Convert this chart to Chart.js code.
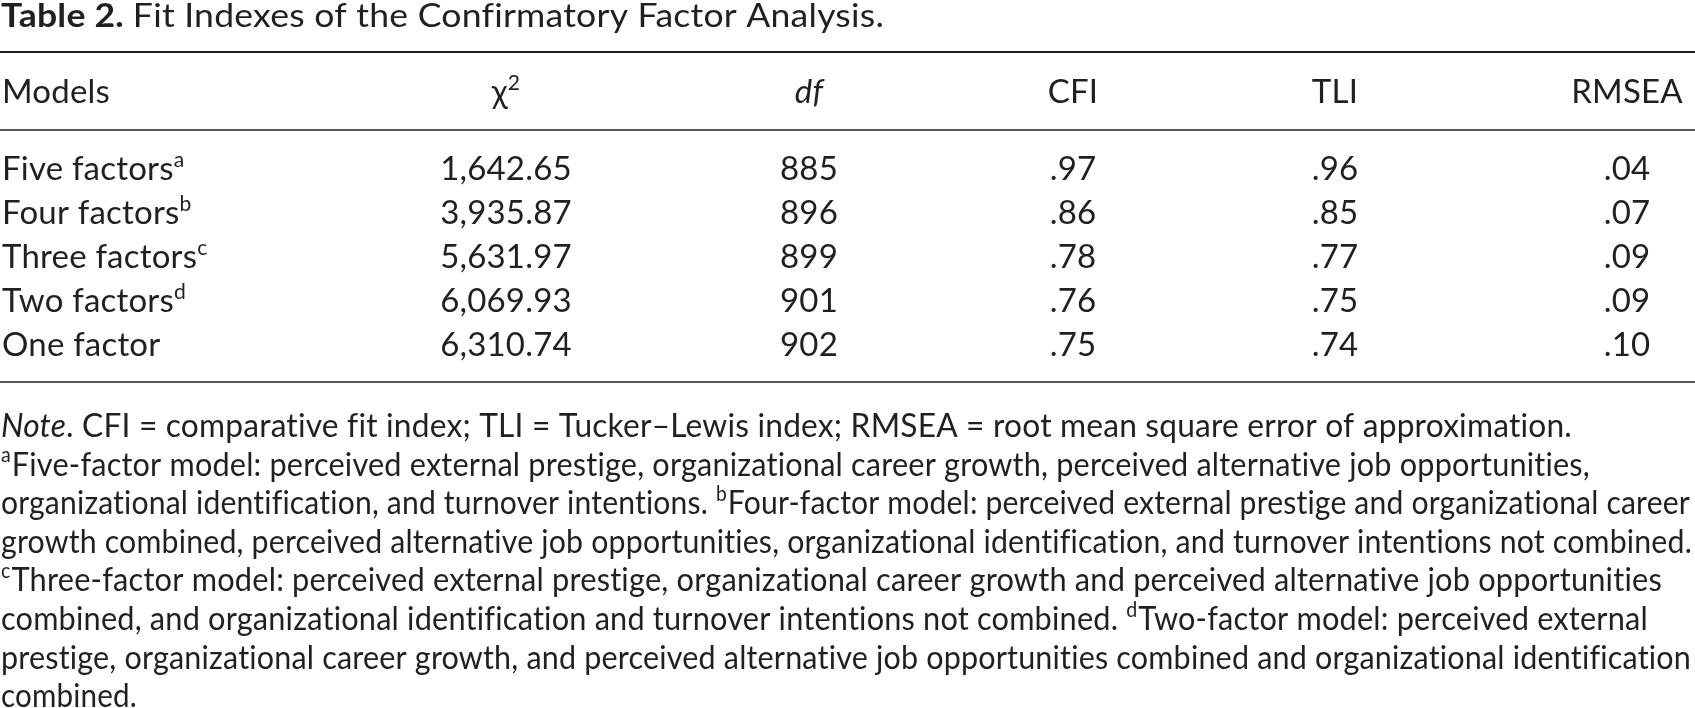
<!DOCTYPE html>
<html>
<head>
<meta charset="utf-8">
<title>Table 2. Fit Indexes of the Confirmatory Factor Analysis</title>
<script src="https://cdn.jsdelivr.net/npm/chart.js@4.4.0/dist/chart.umd.min.js"></script>
<style>
  html, body { margin: 0; padding: 0; background: #fff; }
  #wrap { width: 1695px; height: 708px; position: relative; }
</style>
</head>
<body>
<div id="wrap"><canvas id="fitTable"></canvas></div>
<script>
// table data
const title = ['Table 2.', 'Fit Indexes of the Confirmatory Factor Analysis.'];
const headers = ['Models', 'χ', 'df', 'CFI', 'TLI', 'RMSEA'];
const models = ['Five factors', 'Four factors', 'Three factors', 'Two factors', 'One factor'];
const modelMarks = ['a', 'b', 'c', 'd', ''];
const chiSquare = [1642.65, 3935.87, 5631.97, 6069.93, 6310.74];
const degrees = [885, 896, 899, 901, 902];
const cfi = [0.97, 0.86, 0.78, 0.76, 0.75];
const tli = [0.96, 0.85, 0.77, 0.75, 0.74];
const rmsea = [0.04, 0.07, 0.09, 0.09, 0.10];

// note lines, each a list of [text, style]; style: i = italic, s = superscript
const noteLines = [
  [['Note', 'i'], ['. CFI = comparative fit index; TLI = Tucker–Lewis index; RMSEA = root mean square error of approximation.', '']],
  [['a', 's'], ['Five-factor model: perceived external prestige, organizational career growth, perceived alternative job opportunities,', '']],
  [['organizational identification, and turnover intentions. ', ''], ['b', 's'], ['Four-factor model: perceived external prestige and organizational career', '']],
  [['growth combined, perceived alternative job opportunities, organizational identification, and turnover intentions not combined.', '']],
  [['c', 's'], ['Three-factor model: perceived external prestige, organizational career growth and perceived alternative job opportunities', '']],
  [['combined, and organizational identification and turnover intentions not combined. ', ''], ['d', 's'], ['Two-factor model: perceived external', '']],
  [['prestige, organizational career growth, and perceived alternative job opportunities combined and organizational identification', '']],
  [['combined.', '']]
];

// layout (pixels)
const W = 1695, H = 708;
const FONT = 'Lato, "Noto Sans", sans-serif';
const SIZE = 33;
const INK = '#231f20';
const colX = [2, 506, 809, 1073, 1335, 1627];
const titleY = 27;
const headerY = 103;
const rowY0 = 180, rowStep = 44;
const noteY0 = 437, noteStep = 38.6;
const noteWidths = [1571, 1588, 1688, 1691, 1660, 1646, 1690, 136];
const titleWidth = 883;
const rules = [[52, 2], [130, 1.6], [382, 1.6]];

const fmtChi = v => v.toLocaleString('en-US', { minimumFractionDigits: 2, maximumFractionDigits: 2 });
const fmtDot = v => v.toFixed(2).replace(/^0/, '');

const columns = [
  models.map((m, i) => [[m, ''], [modelMarks[i], 's']]),
  chiSquare.map(v => [[fmtChi(v), '']]),
  degrees.map(v => [[String(v), '']]),
  cfi.map(v => [[fmtDot(v), '']]),
  tli.map(v => [[fmtDot(v), '']]),
  rmsea.map(v => [[fmtDot(v), '']])
];
const headerRuns = [
  [['Models', '']], [['χ', ''], ['2', 's']], [['df', 'i']], [['CFI', '']], [['TLI', '']], [['RMSEA', '']]
];

function runFont(style, bold) {
  const sz = style === 's' ? SIZE * 0.64 : SIZE;
  return (style === 'i' ? 'italic ' : '') + (bold ? 'bold ' : '') + sz + 'px ' + FONT;
}
function runsWidth(ctx, runs) {
  let w = 0;
  runs.forEach(([t, s, b]) => { ctx.font = runFont(s, b); w += ctx.measureText(t).width; });
  return w;
}
function drawRuns(ctx, runs, x, y, align, fitWidth) {
  const natural = runsWidth(ctx, runs);
  const sx = fitWidth ? fitWidth / natural : 1;
  let start = x;
  if (align === 'center') start = x - natural * sx / 2;
  ctx.save();
  ctx.translate(start, y);
  ctx.scale(sx, 1);
  let cx = 0;
  runs.forEach(([t, s, b]) => {
    ctx.font = runFont(s, b);
    ctx.fillText(t, cx, s === 's' ? -SIZE * 0.4 : 0);
    cx += ctx.measureText(t).width + (s === 's' ? 1 : 0);
  });
  ctx.restore();
}

// one scatter dataset per column, one point per cell
const datasets = columns.map((col, j) => ({
  label: headers[j],
  data: col.map((_, i) => ({ x: colX[j], y: rowY0 + i * rowStep })),
  pointRadius: 0,
  showLine: false
}));
datasets.push({
  label: 'header',
  data: colX.map(x => ({ x: x, y: headerY })),
  pointRadius: 0,
  showLine: false
});

const tablePlugin = {
  id: 'tablePlugin',
  afterDatasetsDraw(chart) {
    const ctx = chart.ctx;
    const xs = chart.scales.x, ys = chart.scales.y;
    ctx.save();
    ctx.fillStyle = INK;
    ctx.strokeStyle = INK;
    ctx.textBaseline = 'alphabetic';
    // a tiny letter spacing keeps Lato from joining "ti" into a ligature
    ctx.letterSpacing = '0.2px';

    // title
    drawRuns(ctx, [[title[0] + ' ', '', true], [title[1], '']], xs.getPixelForValue(0) + 1, ys.getPixelForValue(titleY), 'left', titleWidth);

    // rules
    rules.forEach(([y, lw]) => {
      ctx.lineWidth = lw;
      ctx.beginPath();
      ctx.moveTo(xs.getPixelForValue(0), ys.getPixelForValue(y));
      ctx.lineTo(xs.getPixelForValue(W), ys.getPixelForValue(y));
      ctx.stroke();
    });

    // cells
    columns.forEach((col, j) => {
      const meta = chart.getDatasetMeta(j);
      meta.data.forEach((pt, i) => {
        drawRuns(ctx, col[i], pt.x, pt.y, j === 0 ? 'left' : 'center');
      });
    });
    // header row
    const hmeta = chart.getDatasetMeta(columns.length);
    hmeta.data.forEach((pt, j) => {
      drawRuns(ctx, headerRuns[j], pt.x, pt.y, j === 0 ? 'left' : 'center');
    });

    // notes
    noteLines.forEach((runs, i) => {
      drawRuns(ctx, runs, xs.getPixelForValue(1), ys.getPixelForValue(noteY0 + i * noteStep), 'left', noteWidths[i]);
    });
    ctx.restore();
  }
};

new Chart(document.getElementById('fitTable').getContext('2d'), {
  type: 'scatter',
  data: { datasets: datasets },
  options: {
    responsive: true,
    maintainAspectRatio: false,
    animation: false,
    devicePixelRatio: 1,
    layout: { padding: 0 },
    scales: {
      x: { type: 'linear', min: 0, max: W, display: false },
      y: { type: 'linear', min: 0, max: H, reverse: true, display: false }
    },
    plugins: { legend: { display: false }, tooltip: { enabled: false } }
  },
  plugins: [tablePlugin]
});
</script>
</body>
</html>
